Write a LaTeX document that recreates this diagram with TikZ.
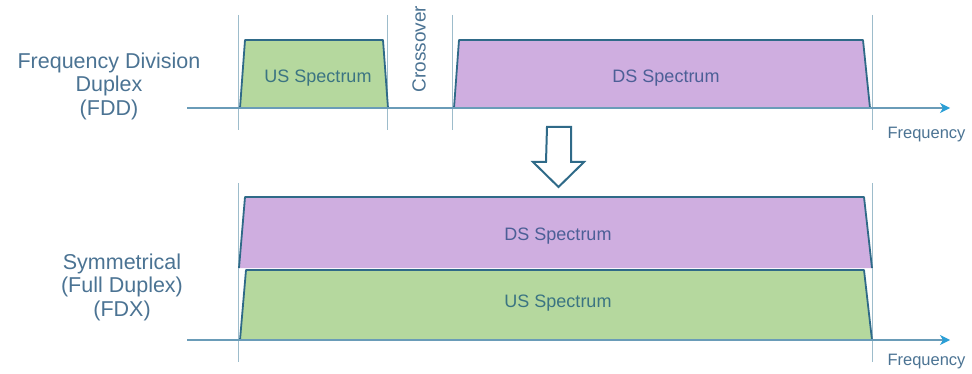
\documentclass[tikz,border=0pt]{standalone}
\usepackage{fontspec}
\setmainfont{Liberation Sans}
\usetikzlibrary{arrows.meta,positioning,calc}
\definecolor{usgreen}{HTML}{B5D89E}
\definecolor{dslilac}{HTML}{CFAEE0}
\definecolor{edge}{HTML}{2F6A88}
\definecolor{grid}{HTML}{9DBCCB}
\definecolor{axis}{HTML}{6A9CB8}
\definecolor{tip}{HTML}{2A9FD6}
\definecolor{label}{HTML}{4B7393}
\definecolor{ustext}{HTML}{3B7482}
\definecolor{dstext}{HTML}{4C5F96}

\begin{document}
\begin{tikzpicture}[x=1pt,y=-1pt,
  lbl/.style={align=center,text=label,font=\fontsize{21.5}{23.5}\selectfont},
  sp/.style={font=\fontsize{18}{20}\selectfont},
  fq/.style={text=label,font=\fontsize{16.5}{18}\selectfont,anchor=west},
  g/.style={draw=grid,line width=0.8pt},
  ax/.style={draw=axis,line width=1.3pt,-{Stealth[length=10pt,width=10pt,inset=3pt,color=tip]}},
  band/.style={draw=edge,line width=1.8pt,line join=round},
  blk/.style={draw=edge,line width=2pt,fill=white,line join=miter}
]
  \useasboundingbox (0,0) rectangle (972,374);

  % FDD
  \foreach \x in {238,387,452,872} \draw[g] (\x,15) -- (\x,130);
  \fill[usgreen] (240,108) -- (245,40) -- (383,40) -- (388,108) -- cycle;
  \draw[band] (240,108) -- (245,40) -- (383,40) -- (388,108);
  \fill[dslilac] (454,108) -- (459,40) -- (863,40) -- (870,108) -- cycle;
  \draw[band] (454,108) -- (459,40) -- (863,40) -- (870,108);
  \coordinate (topStart) at (187,108);
  \coordinate (topEnd) at (950,108);
  \draw[ax] (topStart) -- (topEnd);
  \node[lbl] (fddLabel) at (109,86) {Frequency Division\\Duplex\\(FDD)};
  \node[sp,text=ustext] (usTop) at (318,78) {US Spectrum};
  \node[sp,text=dstext] (dsTop) at (666,78) {DS Spectrum};
  \node[sp,text=label,rotate=90,font=\fontsize{19}{20}\selectfont] (xover) at (419,49) {Crossover};
  \node[fq] (freqTop) at (884,135) {Frequency};

  % change over
  \coordinate (dn) at (559,127);
  \draw[blk] (dn) ++(-12,0) -- ++(24,0) -- ++(0,35) -- ++(13,0)
    -- ++(-25.5,25) -- ++(-25.5,-25) -- ++(13,0) -- cycle;

  % FDX
  \foreach \x in {238,872} \draw[g] (\x,183) -- (\x,362);
  \fill[dslilac] (239,268) -- (245,197) -- (864,197) -- (872,268) -- cycle;
  \draw[band] (239,268) -- (245,197) -- (864,197) -- (872,268);
  \fill[usgreen] (240,340) -- (246,270) -- (864,270) -- (872,340) -- cycle;
  \draw[band] (240,340) -- (246,270) -- (864,270) -- (872,340);
  \coordinate (botStart) at (187,340);
  \coordinate (botEnd) at (950,340);
  \draw[ax] (botStart) -- (botEnd);
  \node[lbl] (fdxLabel) at (122,287) {Symmetrical\\(Full Duplex)\\(FDX)};
  \node[sp,text=dstext] (dsBot) at (558,236) {DS Spectrum};
  \node[sp,text=ustext] (usBot) at (558,303) {US Spectrum};
  \node[fq] (freqBot) at (884,362) {Frequency};
\end{tikzpicture}
\end{document}
